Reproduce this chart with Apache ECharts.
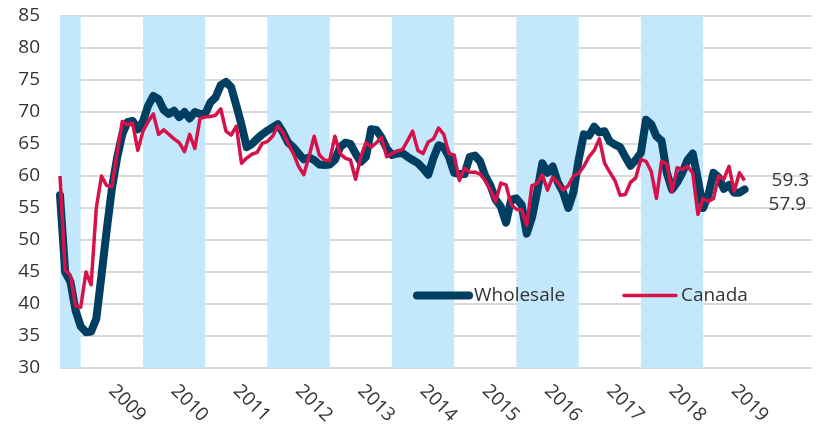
<!DOCTYPE html>
<html><head><meta charset="utf-8">
<script src="https://cdn.jsdelivr.net/npm/echarts@6/dist/echarts.min.js"></script>
<style>html,body{margin:0;padding:0;background:#fff}#c{width:817px;height:428px}</style>
</head><body><div id="c"></div>
<script>
// Monthly data, first observation September 2008
const startYear = 2008, startMonth = 9;
const wholesale = [57,45,43.5,39,36.5,35.6,35.7,37.7,44.5,51.5,58,62.8,66.5,68.4,68.6,67.3,68.5,71,72.5,72,
70.3,69.7,70.2,69.2,70,69,70,69.7,69.7,71.5,72.3,74.2,74.7,73.9,71,68,64.5,65,65.8,66.5,
67.1,67.6,68.1,66.8,65.2,64.5,63.5,62.6,62.9,62.5,61.8,61.7,61.8,62.5,64.5,65.2,65,63.5,62.2,63,
67.3,67.2,66,64.3,63.3,63.5,63.6,63,62.5,62,61.2,60.2,62.8,64.8,64.5,63,60.5,60.3,60.3,63,
63.2,62.3,60,58.5,56.3,55.2,52.7,56.3,56.5,55.5,51,53.5,57.5,62,60.5,61.5,59,57.5,55,57.5,
62.5,66.5,66.3,67.7,66.8,67,65.4,64.9,64.5,63,61.6,62.5,63.6,68.8,68.1,66.2,65.5,60.5,57.9,59,
60.5,62.5,63.5,59.5,55,57,60.5,59.8,58,58.6,57.4,57.4,57.9];
const canada = [60,45.3,44.5,39.7,39.5,45,43,55,60,58.5,58.3,63.5,68.5,68,68.3,64,67,68.5,69.7,66.5,
67.2,66.5,65.8,65.2,63.8,66.5,64.3,69,69.2,69.3,69.5,70.5,67,66.4,67.8,62,62.8,63.4,63.7,65.1,
65.4,66.2,67.8,66.8,65,63.5,61.5,60.2,63,66.2,63.3,62.5,62.4,66.2,63.5,62.8,62.5,59.5,63,65.2,
64.5,65.2,66,63,63.5,63.9,64.1,65.5,67,64,63.5,65.3,65.8,67.5,66.5,63.5,63.3,59.3,61.2,60.6,
60.6,60.3,59.3,57.8,56,58.9,58.6,55.5,54.8,54.7,52.3,58.5,58.8,60.2,57.8,59.8,59,57.8,58.5,60,
60.4,61.5,63,64,65.8,62,60.6,59.3,57,57.1,59,59.7,62.6,62.3,60.7,56.5,62.3,61.9,57.5,61.3,
61,61.5,60.5,54,56.5,56,56.5,60,59.5,61.5,57.6,60.5,59.3];
const yearLabels = [2009,2010,2011,2012,2013,2014,2015,2016,2017,2018,2019];
const shadedYears = [2008,2010,2012,2014,2016,2018];
const yMin = 30, yMax = 85, yStep = 5;

const xMin = startYear + (startMonth - 1) / 12;
const xMax = 2020.75;
const toXY = arr => arr.map((v, i) => [startYear + (startMonth - 1 + i) / 12, v]);
const bands = shadedYears.map(y => [{xAxis: Math.max(y, xMin)}, {xAxis: y + 1}]);

const NAVY = '#003E62', RED = '#D6124A';
const font = '"Open Sans", sans-serif';
const chart = echarts.init(document.getElementById('c'));
chart.setOption({
  animation: false,
  grid: {left: 60, right: 5, top: 16, bottom: 60},
  legend: {
    left: 408, top: 281, itemWidth: 52, itemHeight: 8, itemGap: 57,
    textStyle: {fontFamily: font, fontSize: 19, color: '#333'},
    itemStyle: {opacity: 0},
    data: [
      {name: 'Wholesale', lineStyle: {width: 8, cap: 'round', color: NAVY}, itemStyle: {opacity: 0}},
      {name: 'Canada', lineStyle: {width: 3.5, cap: 'round', color: RED}, itemStyle: {opacity: 0}}
    ]
  },
  xAxis: {
    type: 'value', min: xMin, max: xMax,
    axisLine: {show: false}, axisTick: {show: false}, splitLine: {show: false},
    axisLabel: {
      customValues: yearLabels.map(y => y + 0.5),
      formatter: v => String(Math.floor(v)),
      rotate: -45, margin: 20,
      fontFamily: font, fontSize: 19, color: '#333'
    }
  },
  yAxis: {
    type: 'value', min: yMin, max: yMax, interval: yStep,
    axisLine: {show: false}, axisTick: {show: false},
    splitLine: {lineStyle: {color: '#D9D9D9', width: 2}},
    axisLabel: {margin: 20, fontFamily: font, fontSize: 19, color: '#333'}
  },
  series: [
    {
      name: 'Wholesale', type: 'line', data: toXY(wholesale), showSymbol: false, symbol: 'none',
      lineStyle: {color: NAVY, width: 8, cap: 'round', join: 'round'},
      itemStyle: {color: NAVY},
      markArea: {silent: true, itemStyle: {color: '#C4E8FB'}, data: bands},
      endLabel: {show: true, formatter: p => p.value[1].toFixed(1), offset: [16, 15],
        fontFamily: font, fontSize: 19, color: '#333'},
      z: 2
    },
    {
      name: 'Canada', type: 'line', data: toXY(canada), showSymbol: false, symbol: 'none',
      lineStyle: {color: RED, width: 3.5, join: 'round'},
      itemStyle: {color: RED},
      endLabel: {show: true, formatter: p => p.value[1].toFixed(1), offset: [19, 0],
        fontFamily: font, fontSize: 19, color: '#333'},
      z: 3
    }
  ]
});
</script></body></html>
